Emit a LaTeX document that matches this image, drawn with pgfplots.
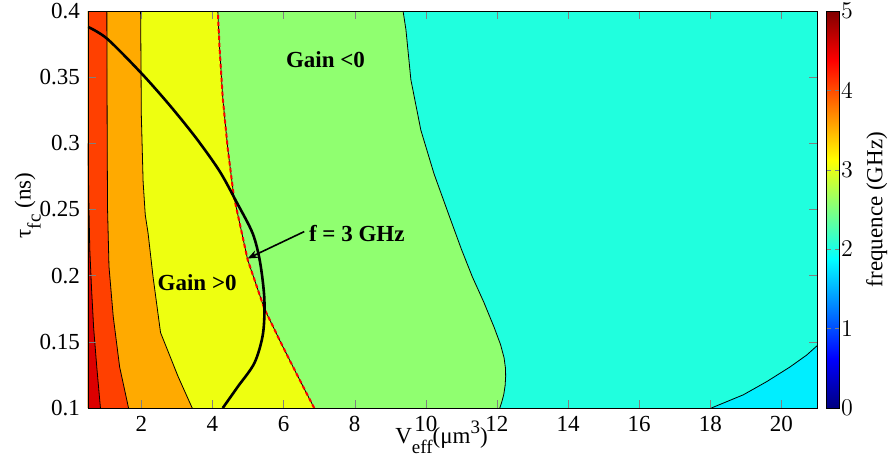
\documentclass[border=0pt]{standalone}
\usepackage{fontspec}
\setmainfont{Liberation Serif}
\usepackage{pgfplots}
\pgfplotsset{compat=1.18}
\usetikzlibrary{arrows.meta,calc}
\definecolor{cDR}{RGB}{220,0,0}
\definecolor{cRO}{RGB}{255,64,0}
\definecolor{cOR}{RGB}{255,170,0}
\definecolor{cYE}{RGB}{238,255,16}
\definecolor{cGR}{RGB}{144,255,112}
\definecolor{cCY}{RGB}{32,255,222}
\definecolor{cLB}{RGB}{0,238,255}
\newcommand{\lab}{\fontsize{11.5}{13.8}\selectfont}
\newcommand{\sub}[1]{\raisebox{-5pt}{\fontsize{9.5}{11}\selectfont #1}}
\newcommand{\sups}[1]{\raisebox{5pt}{\fontsize{9.5}{11}\selectfont #1}}
\begin{document}
\lab
\begin{tikzpicture}
\begin{axis}[
  width=364.5pt, height=198.5pt, scale only axis,
  xmin=0.5, xmax=21, ymin=0.1, ymax=0.4,
  xtick={2,4,...,20},
  ytick={0.1,0.15,0.2,0.25,0.3,0.35,0.4},
  yticklabels={0.1,0.15,0.2,0.25,0.3,0.35,0.4},
  axis on top,
  axis background/.style={fill=cCY},
  tick align=inside,
  major tick length=4pt,
  /pgf/number format/assume math mode=true,
  tick label style={font=\lab},
  label style={font=\lab},
  xlabel={V\sub{eff}(μm\sups{3})},
  xlabel style={at={($(axis description cs:0.4849,0)+(0,-17.5pt)$)}, anchor=base, inner sep=0pt},
  ylabel={τ\sub{fc} (ns)},
  ylabel style={at={($(axis description cs:0,0.5)+(-28.7pt,2pt)$)}, anchor=base, inner sep=0pt},
  colorbar, colormap/jet, point meta min=0, point meta max=5,
  colorbar/width=6.2pt,
  colorbar style={
    at={($(parent axis.north east)+(-3.69pt,0)$)}, anchor=north west,
    ytick={0,1,2,3,4,5},
    tick label style={font=\lab},
    yticklabel style={inner sep=0.8pt},
    major tick length=2pt,
  },
]
% filled regions
\addplot[fill=cLB, draw=none] coordinates {(18.03,0.1) (18.93,0.11) (19.59,0.12) (20.24,0.131) (20.71,0.140) (21,0.147) (21,0.1)};
\addplot[fill=cGR, draw=none] coordinates {(0.5,0.1) (12.08,0.1) (12.13,0.104) (12.19,0.11) (12.23,0.117) (12.245,0.124) (12.24,0.13) (12.20,0.138) (12.10,0.148) (11.92,0.161) (11.63,0.18) (11.31,0.199) (11.0,0.22) (10.66,0.245) (10.23,0.277) (9.86,0.310) (9.58,0.348) (9.44,0.386) (9.36,0.4) (0.5,0.4)};
\addplot[fill=cYE, draw=none] coordinates {(0.5,0.1) (6.86,0.1) (6.40,0.124) (5.93,0.149) (5.46,0.175) (4.99,0.212) (4.60,0.26) (4.43,0.296) (4.29,0.334) (4.20,0.372) (4.15,0.4) (0.5,0.4)};
\addplot[fill=cOR, draw=none] coordinates {(0.5,0.1) (3.43,0.1) (3.03,0.124) (2.54,0.157) (2.33,0.199) (2.19,0.232) (2.11,0.246) (2.05,0.271) (2.0,0.321) (1.98,0.4) (0.5,0.4)};
\addplot[fill=cRO, draw=none] coordinates {(0.5,0.1) (1.64,0.1) (1.39,0.131) (1.21,0.169) (1.09,0.207) (1.05,0.25) (1.04,0.3) (1.035,0.35) (1.03,0.4) (0.5,0.4)};
\addplot[fill=cDR, draw=none] coordinates {(0.5,0.1) (0.85,0.1) (0.75,0.13) (0.66,0.16) (0.60,0.19) (0.55,0.22) (0.52,0.26) (0.505,0.30) (0.5,0.30)};
% contour lines
\addplot[black, line width=0.4pt] coordinates {(18.03,0.1) (18.93,0.11) (19.59,0.12) (20.24,0.131) (20.71,0.140) (21,0.147)};
\addplot[black, line width=0.4pt] coordinates {(12.08,0.1) (12.13,0.104) (12.19,0.11) (12.23,0.117) (12.245,0.124) (12.24,0.13) (12.20,0.138) (12.10,0.148) (11.92,0.161) (11.63,0.18) (11.31,0.199) (11.0,0.22) (10.66,0.245) (10.23,0.277) (9.86,0.310) (9.58,0.348) (9.44,0.386) (9.36,0.4)};
\addplot[black, line width=0.4pt] coordinates {(6.86,0.1) (6.40,0.124) (5.93,0.149) (5.46,0.175) (4.99,0.212) (4.60,0.26) (4.43,0.296) (4.29,0.334) (4.20,0.372) (4.15,0.4)};
\addplot[red, line width=1pt, dash pattern=on 2pt off 1.5pt] coordinates {(6.86,0.1) (6.40,0.124) (5.93,0.149) (5.46,0.175) (4.99,0.212) (4.60,0.26) (4.43,0.296) (4.29,0.334) (4.20,0.372) (4.15,0.4)};
\addplot[black, line width=0.4pt] coordinates {(3.43,0.1) (3.03,0.124) (2.54,0.157) (2.33,0.199) (2.19,0.232) (2.11,0.246) (2.05,0.271) (2.0,0.321) (1.98,0.4)};
\addplot[black, line width=0.4pt] coordinates {(1.64,0.1) (1.39,0.131) (1.21,0.169) (1.09,0.207) (1.05,0.25) (1.04,0.3) (1.035,0.35) (1.03,0.4)};
\addplot[black, line width=0.4pt] coordinates {(0.85,0.1) (0.75,0.13) (0.66,0.16) (0.60,0.19) (0.55,0.22) (0.52,0.26) (0.505,0.30)};
% f = 3 GHz curve
\addplot[black, line width=1.3pt, smooth] coordinates {(0.5,0.388) (1.04,0.379) (2.0,0.353) (2.79,0.329) (3.54,0.304) (4.20,0.279) (4.67,0.256) (5.13,0.232) (5.34,0.21) (5.46,0.182) (5.42,0.156) (5.18,0.134) (4.71,0.116) (4.29,0.1)};
\node[font=\lab\bfseries] at (axis cs:7.18,0.363) {Gain <0};
\node[font=\lab\bfseries] at (axis cs:3.57,0.1945) {Gain >0};
\node[font=\lab\bfseries] at (axis cs:8.06,0.2318) {f = 3 GHz};
\draw[-{Stealth[length=5pt,width=4pt]}, line width=0.8pt] (axis cs:6.58,0.2333) -- (axis cs:4.99,0.213);
\coordinate (SW) at (rel axis cs:0,0);
\coordinate (NE) at (rel axis cs:1,1);
\end{axis}
\node[rotate=90, font=\lab, inner sep=0pt, anchor=center] at ($(NE|-SW)!0.5!(NE)+(29.85pt,0)$) {frequence (GHz)};
\pgfresetboundingbox
\path[use as bounding box] ($(SW)+(-44pt,-24pt)$) rectangle ($(NE)+(36pt,5.5pt)$);
\end{tikzpicture}
\end{document}
